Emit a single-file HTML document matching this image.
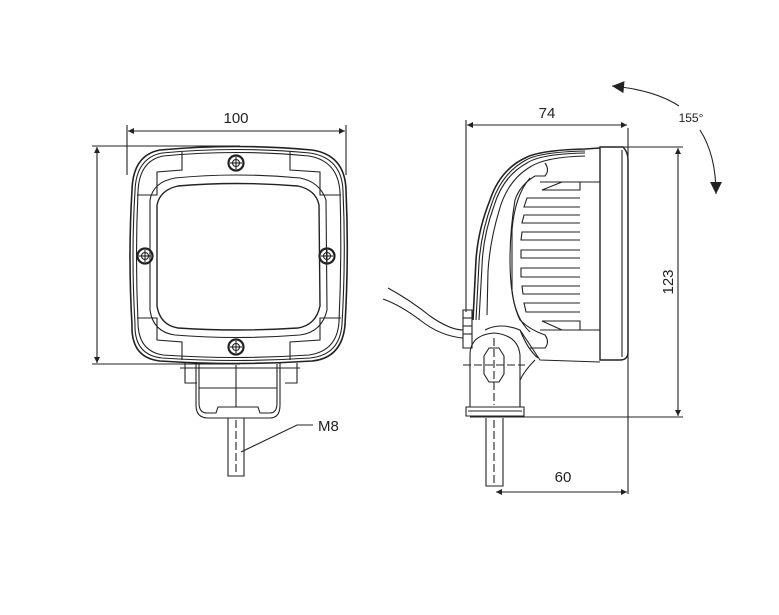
<!DOCTYPE html>
<html><head><meta charset="utf-8"><style>
html,body{margin:0;padding:0;background:#fff;}
svg{display:block;}
text{font-family:"Liberation Sans",sans-serif;fill:#222;}
</style></head><body>
<svg width="779" height="615" viewBox="0 0 779 615" xmlns="http://www.w3.org/2000/svg">
<defs>
<marker id="ar" viewBox="0 0 10 10" refX="10" refY="5" markerWidth="14" markerHeight="6" markerUnits="userSpaceOnUse" orient="auto-start-reverse"><path d="M0,0 L10,5 L0,10 z" fill="#222"/></marker>
<marker id="big" viewBox="0 0 10 10" refX="10" refY="5" markerWidth="16" markerHeight="12" markerUnits="userSpaceOnUse" orient="auto"><path d="M0,0 L10,5 L0,10 z" fill="#222"/></marker>
</defs>
<g stroke="#222" fill="none" stroke-width="1.1">
<!-- FRONT VIEW dims -->
<line x1="127" y1="125" x2="127" y2="175"/>
<line x1="346" y1="125" x2="346" y2="175"/>
<line x1="128" y1="131" x2="345" y2="131" marker-start="url(#ar)" marker-end="url(#ar)"/>
<line x1="92" y1="146" x2="240" y2="146"/>
<line x1="92" y1="364" x2="240" y2="364"/>
<line x1="97" y1="147" x2="97" y2="363" marker-start="url(#ar)" marker-end="url(#ar)"/>
<!-- body -->
<path d="M160,150 Q236,143 312,150 Q345,155 346,190 Q349,256 345,325 Q342,358 312,361 Q236,366 160,361 Q131,358 132,325 Q128,256 132,190 Q133,155 160,150 Z" stroke-width="1.6"/>
<path d="M162,153 Q236,146 310,153 Q342,158 343,191 Q346,256 342,324 Q340,355 310,358 Q236,363 162,358 Q134,355 135,324 Q131,256 135,191 Q136,158 162,153 Z"/>
<path d="M163,156 Q236,149 309,156 Q338,161 340,192 Q342,256 339,322 Q337,351 309,355 Q236,360 163,355 Q138,351 138,322 Q135,256 138,192 Q139,161 163,156 Z"/>
<path d="M182,152 L182,170 L157,172 L157,195 L137,195"/>
<path d="M290,152 L290,170 L320,172 L320,195 L341,195"/>
<path d="M182,360 L182,342 L157,340 L157,318 L137,318"/>
<path d="M290,360 L290,342 L320,340 L320,318 L341,318"/>
<path d="M175,178 Q236,172 300,178 Q320,182 326,200 L327,310 Q322,332 300,335 Q236,340 175,335 Q153,332 150,310 L150,200 Q153,182 175,178 Z"/>
<path d="M178,186 Q236,181 298,186 Q316,190 319,205 L320,306 Q316,325 298,328 Q236,332 178,328 Q160,325 157,306 L157,205 Q160,190 178,186 Z" stroke-width="1.4"/>
<!-- screws -->
<g>
<circle cx="236" cy="163" r="7.5" stroke-width="2.2"/><circle cx="236" cy="163" r="3.5"/><line x1="230" y1="163" x2="242" y2="163"/><line x1="236" y1="157" x2="236" y2="169"/>
<circle cx="236" cy="347" r="7.5" stroke-width="2.2"/><circle cx="236" cy="347" r="3.5"/><line x1="230" y1="347" x2="242" y2="347"/><line x1="236" y1="341" x2="236" y2="353"/>
<circle cx="145" cy="256" r="7.5" stroke-width="2.2"/><circle cx="145" cy="256" r="3.5"/><line x1="139" y1="256" x2="151" y2="256"/><line x1="145" y1="250" x2="145" y2="262"/>
<circle cx="327" cy="256" r="7.5" stroke-width="2.2"/><circle cx="327" cy="256" r="3.5"/><line x1="321" y1="256" x2="333" y2="256"/><line x1="327" y1="250" x2="327" y2="262"/>
</g>
<!-- bracket -->
<path d="M185,363 L185,383 L197,383 M297,363 L297,383 L285,383 M180,368 L300,368"/>
<path d="M196,363 L196,405 Q196,418 208,418 L270,418 Q280,418 280,405 L280,363"/>
<path d="M199,364 L199,403 Q199,413 207,413 L216,413 L218,407 L258,407 L260,413 L270,413 Q277,413 277,403 L277,364"/>
<line x1="199" y1="388" x2="277" y2="388"/>
<line x1="236" y1="365" x2="236" y2="407"/>
<path d="M228,418 L228,476 L244,476 L244,418"/>
<line x1="236" y1="420" x2="236" y2="474" stroke-dasharray="8,3"/>
<polyline points="241,452 297,425 313,425"/>
<!-- SIDE VIEW dims -->
<line x1="466" y1="120" x2="466" y2="312"/>
<line x1="628" y1="128" x2="628" y2="494"/>
<line x1="467" y1="125" x2="627" y2="125" marker-start="url(#ar)" marker-end="url(#ar)"/>
<line x1="600" y1="147" x2="683" y2="147"/>
<line x1="470" y1="417" x2="683" y2="417"/>
<line x1="678" y1="148" x2="678" y2="416" marker-start="url(#ar)" marker-end="url(#ar)"/>
<line x1="496" y1="492" x2="627" y2="492" marker-start="url(#ar)" marker-end="url(#ar)"/>
<!-- 155 arcs -->
<path d="M679,106 Q655,90 612,86" marker-end="url(#big)"/>
<path d="M700,130 Q716,155 716,194" marker-end="url(#big)"/>
<!-- side body -->
<path d="M600,147 L623,147 Q628,152 628,160 L628,352 Q628,360 620,360 L600,360 Z" stroke-width="1.4"/>
<line x1="622" y1="150" x2="622" y2="357"/>
<path d="M600,148 L585,149 Q540,150 525,158 Q500,170 490,200 Q478,230 476,260 L473,320" stroke-width="1.6"/>
<path d="M585,151 Q540,152 526,160 Q502,173 492,203 Q481,233 479,263 L476,320"/>
<path d="M585,153 Q540,154 527,163 Q503,176 494,206 Q483,236 482,266 L479,320"/>
<path d="M585,156 Q545,157 530,167 Q507,181 499,211 Q490,241 488,271 L487,315"/>
<path d="M545,163 Q550,170 545,176 L535,176 Q520,185 515,200 Q510,230 510,260 Q510,300 520,320 Q530,330 545,335 Q550,342 545,348 L530,348"/>
<path d="M530,178 Q515,195 512,230 L512,290 Q515,318 530,332"/>
<path d="M600,182 L540,182 M600,330 L540,330"/>
<g>
<path d="M580,182 L580,190 L542,190 L562,182"/>
<path d="M580,198 L527,198 L524,207 L580,207"/>
<path d="M580,215 L524,215 L522,223 L580,223"/>
<path d="M580,232 L522,232 L521,240 L580,240"/>
<path d="M580,250 L521,250 L521,258 L580,258"/>
<path d="M580,268 L521,268 L521,277 L580,277"/>
<path d="M580,286 L522,286 L523,294 L580,294"/>
<path d="M580,303 L524,303 L526,312 L580,312"/>
<path d="M580,330 L580,321 L542,321 L562,330"/>
</g>
<path d="M485,330 Q500,322 520,330 Q530,345 540,360 L600,362 M520,330 Q528,350 538,358"/>
<path d="M535,360 Q525,370 520,380 L520,407"/>
<!-- clamp -->
<path d="M470,355 Q470,335 494,333 Q518,335 520,355 L520,407 L470,407 Z"/>
<path d="M484,356 L489,348 L499,348 L504,356 L504,374 L499,382 L489,382 L484,374 Z"/>
<line x1="463" y1="365" x2="525" y2="365" stroke-dasharray="8,3"/>
<line x1="494" y1="338" x2="494" y2="405" stroke-dasharray="8,3"/>
<path d="M466,407 L466,416 L524,416 L524,407 Z"/>
<line x1="468" y1="411" x2="522" y2="411"/>
<path d="M486,418 L486,486 L503,486 L503,418"/>
<line x1="494" y1="420" x2="494" y2="484" stroke-dasharray="8,3"/>
<!-- connector & cable -->
<path d="M463,310 L472,310 L472,348 L463,348 Z"/>
<line x1="463" y1="318" x2="472" y2="318"/><line x1="463" y1="326" x2="472" y2="326"/><line x1="463" y1="334" x2="472" y2="334"/>
<path d="M388,288 Q410,300 430,316 Q450,330 463,330"/>
<path d="M383,299 Q400,305 420,320 Q440,336 463,338"/>
</g>
<text x="236" y="123" font-size="15" text-anchor="middle">100</text>
<text x="318" y="431" font-size="15">M8</text>
<text x="547" y="118" font-size="15" text-anchor="middle">74</text>
<text x="563" y="482" font-size="15" text-anchor="middle">60</text>
<text x="691" y="122" font-size="12" text-anchor="middle">155°</text>
<text x="0" y="0" font-size="15" text-anchor="middle" transform="translate(673,282) rotate(-90)">123</text>
</svg>
</body></html>
